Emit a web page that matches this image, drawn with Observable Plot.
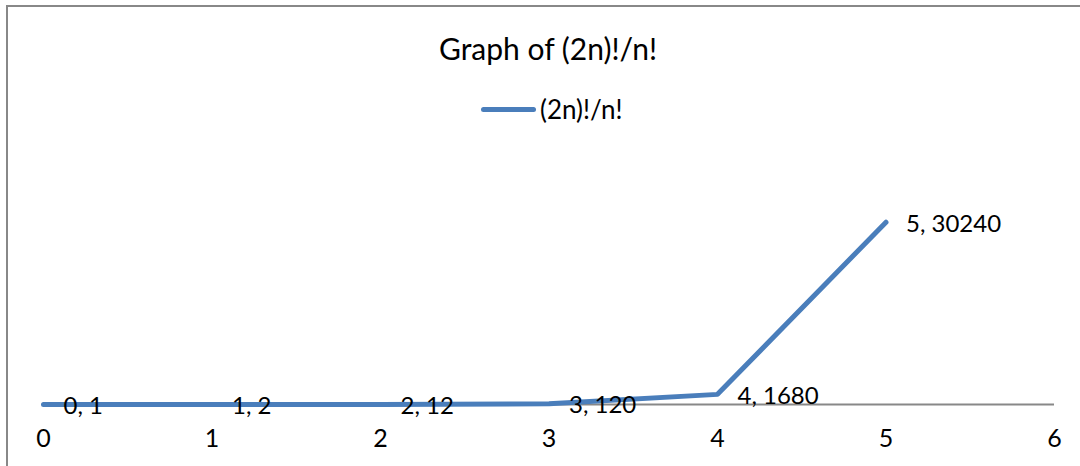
<!DOCTYPE html>
<html>
<head>
<meta charset="utf-8">
<script src="https://cdn.jsdelivr.net/npm/d3@7"></script>
<script src="https://cdn.jsdelivr.net/npm/@observablehq/plot@0.6"></script>
<style>
  html, body { margin: 0; padding: 0; background: #fff; }
  #wrap { position: relative; width: 1080px; height: 466px; overflow: hidden; font-family: Lato, "Open Sans", sans-serif; }
  #frame { position: absolute; left: 6px; top: 5px; width: 1200px; height: 600px; border-left: 2px solid #888; border-top: 2px solid #888; }
  #title { position: absolute; left: 0; top: 31px; width: 1096px; text-align: center; font-size: 30px; line-height: 34px; color: #000; }
  #legend { position: absolute; left: 481px; top: 96px; height: 26px; display: flex; align-items: center; font-size: 26px; color: #000; }
  #legend .sw { display: inline-block; width: 55px; height: 5px; border-radius: 3px; background: #4a7ebb; margin-right: 4px; }
  #chart { position: absolute; left: 0; top: 0; }
</style>
</head>
<body>
<div id="wrap">
  <div id="frame"></div>
  <div id="title">Graph of (2n)!/n!</div>
  <div id="legend"><span class="sw"></span><span id="legtext"></span></div>
  <div id="chart"></div>
</div>
<script>
const seriesName = "(2n)!/n!";
const nValues = [0, 1, 2, 3, 4, 5];
const fValues = [1, 2, 12, 120, 1680, 30240];
const xTicks = [0, 1, 2, 3, 4, 5, 6];

document.getElementById("legtext").textContent = seriesName;

const data = nValues.map((n, i) => ({n, v: fValues[i]}));

const chart = Plot.plot({
  width: 1080,
  height: 466,
  marginLeft: 43,
  marginRight: 26,
  marginTop: 193,
  marginBottom: 62,
  style: {background: "transparent", fontFamily: "Lato, 'Open Sans', sans-serif", color: "#000"},
  x: {domain: [0, 6]},
  y: {domain: [0, 35000], axis: null},
  marks: [
    Plot.axisX({ticks: xTicks, tickSize: 0, tickPadding: 25, fontSize: 25, label: null, tickFormat: d => String(d)}),
    Plot.ruleY([0], {stroke: "#888", strokeWidth: 2}),
    Plot.line(data, {x: "n", y: "v", stroke: "#4a7ebb", strokeWidth: 5, strokeLinecap: "round", strokeLinejoin: "round"}),
    Plot.text(data, {x: "n", y: "v", text: d => `${d.n}, ${d.v}`, textAnchor: "start", lineAnchor: "middle", dx: 20, dy: 2, fontSize: 24, fill: "#000"})
  ]
});
document.getElementById("chart").appendChild(chart);
</script>
</body>
</html>
